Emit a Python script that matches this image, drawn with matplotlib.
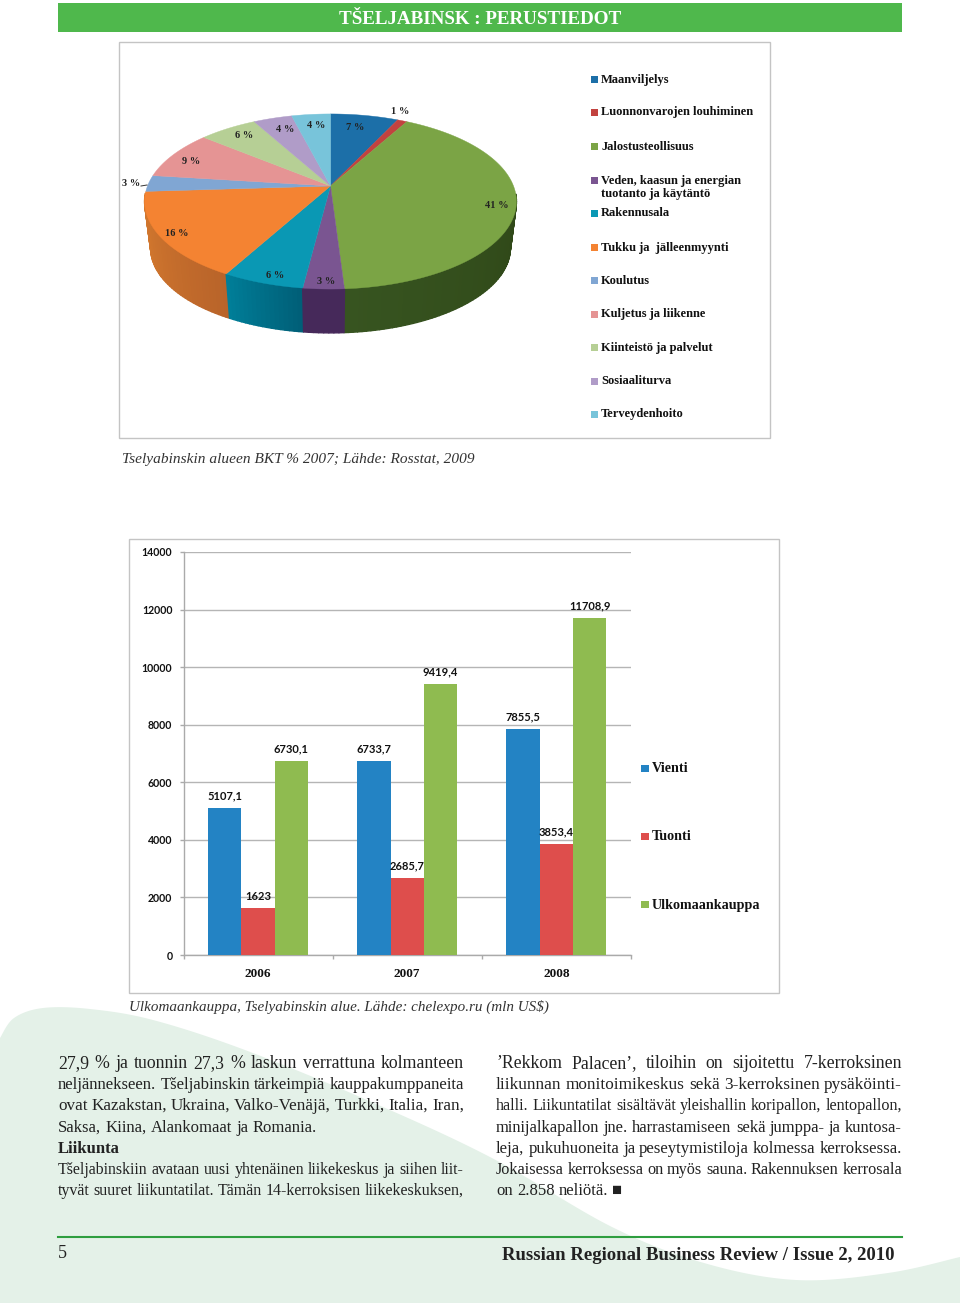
import numpy as np
import matplotlib
matplotlib.use('Agg')
import matplotlib.pyplot as plt
from matplotlib.patches import Polygon, Rectangle

SERIF = 'Liberation Serif'
SANS = 'Lato'

# pie data
pie_values = [7, 1, 41, 3, 6, 16, 3, 9, 6, 4, 4]
pie_names = ['Maanviljelys', 'Luonnonvarojen louhiminen', 'Jalostusteollisuus',
             'Veden, kaasun ja energian\ntuotanto ja käytäntö', 'Rakennusala',
             'Tukku ja  jälleenmyynti', 'Koulutus', 'Kuljetus ja liikenne',
             'Kiinteistö ja palvelut', 'Sosiaaliturva', 'Terveydenhoito']
pie_colors = ['#1c6fa8', '#c2423f', '#7ba445', '#7a5591', '#0a98b4', '#f48332',
              '#80a6d3', '#e59494', '#b6cf95', '#b09cc8', '#78c4da']
side_left = ['#1c6fa8', '#c2423f', '#375420', '#46295a', '#007e98', '#d97d2f',
             '#80a6d3', '#e59494', '#b6cf95', '#b09cc8', '#78c4da']
side_right = ['#1c6fa8', '#c2423f', '#283c10', '#46295a', '#005f78', '#b9642a',
              '#80a6d3', '#e59494', '#b6cf95', '#b09cc8', '#78c4da']
pie_label_xy = [(355, 126), (400, 111), (497, 205), (326, 280), (275, 274), (177, 232),
                (131, 183), (191, 160), (244, 135), (285, 128), (316, 125)]
legend_y = [79, 112, 146, 180, 213, 247, 280, 314, 347, 381, 414]

# bar data
years = ['2006', '2007', '2008']
vienti = [5107.1, 6733.7, 7855.5]
tuonti = [1623, 2685.7, 3853.4]
ulkomaankauppa = [6730.1, 9419.4, 11708.9]
bar_ticks = [0, 2000, 4000, 6000, 8000, 10000, 12000, 14000]
bar_names = ['Vienti', 'Tuonti', 'Ulkomaankauppa']
bar_colors = ['#2383c4', '#de4e4c', '#8fbb50']
bar_legend_y = [768, 836, 904]

# page text
left_lines = ['27,9 % ja tuonnin 27,3 % laskun verrattuna kolmanteen',
              'neljännekseen. Tšeljabinskin tärkeimpiä kauppakumppaneita',
              'ovat Kazakstan, Ukraina, Valko-Venäjä, Turkki, Italia, Iran,',
              'Saksa, Kiina, Alankomaat ja Romania.',
              'Liikunta',
              'Tšeljabinskiin avataan uusi yhtenäinen liikekeskus ja siihen liit-',
              'tyvät suuret liikuntatilat. Tämän 14-kerroksisen liikekeskuksen,']
right_lines = ['’Rekkom Palacen’, tiloihin on sijoitettu 7-kerroksinen',
               'liikunnan monitoimikeskus sekä 3-kerroksinen pysäköinti-',
               'halli. Liikuntatilat sisältävät yleishallin koripallon, lentopallon,',
               'minijalkapallon jne. harrastamiseen sekä jumppa- ja kuntosa-',
               'leja, pukuhuoneita ja peseytymistiloja kolmessa kerroksessa.',
               'Jokaisessa kerroksessa on myös sauna. Rakennuksen kerrosala',
               'on 2.858 neliötä. ■']
left_justified = [True, True, True, False, False, True, True]
right_justified = [True, True, True, True, True, True, False]
line_y = [1063, 1084, 1105, 1127, 1148, 1169, 1190]
blob_x = [0, 14, 43, 90, 153, 245, 367, 490, 612, 704, 796, 888, 960]
blob_y = [1038, 1018, 1008, 1009, 1020, 1050, 1100, 1157, 1227, 1263, 1280, 1273, 1257]

fig = plt.figure(figsize=(9.6, 13.03), dpi=100)
page = fig.add_axes([0, 0, 1, 1])
page.set_xlim(0, 960)
page.set_ylim(1303, 0)
page.axis('off')


def smooth(xs, ys, n=20):
    # catmull-rom through the points, only for the page background shape
    p = np.column_stack([xs, ys]).astype(float)
    p = np.vstack([p[0], p, p[-1]])
    out = []
    for i in range(1, len(p) - 2):
        for t in np.linspace(0, 1, n, endpoint=False):
            out.append(0.5 * (2 * p[i] + (p[i + 1] - p[i - 1]) * t
                              + (2 * p[i - 1] - 5 * p[i] + 4 * p[i + 1] - p[i + 2]) * t ** 2
                              + (3 * p[i] - p[i - 1] - 3 * p[i + 1] + p[i + 2]) * t ** 3))
    out.append(p[-2])
    return out


blob = smooth(blob_x, blob_y) + [(960, 1303), (0, 1303)]
page.add_patch(Polygon(blob, closed=True, fc='#e4f1e8', ec='none', zorder=0))

# title band and chart boxes
page.add_patch(Rectangle((58, 3), 844, 29, fc='#4fb84c', ec='none'))
page.text(480, 20, 'TŠELJABINSK : PERUSTIEDOT', color='white', family=SERIF, weight='bold',
          fontsize=13.7, ha='center', va='center')
page.add_patch(Rectangle((119, 42), 651, 396, fc='white', ec='#c4c4c4', lw=1))
page.add_patch(Rectangle((129, 539), 650, 454, fc='white', ec='#c4c4c4', lw=1))


# pie, a circle seen in perspective
def project(angle, cx, cy, rx, ry, k=0.177):
    u, v = np.sin(angle), -np.cos(angle)
    d = 1 - k * v
    return np.column_stack([cx + rx * u / d, cy + ry * v / d])


top = (330.5, 186, 183, 84.8)
low = (330.5, 233, 177, 82.2)
edges = np.cumsum([0] + pie_values) / sum(pie_values) * 2 * np.pi

quads = []
for i in range(len(pie_values)):
    a = np.linspace(edges[i], edges[i + 1], max(2, pie_values[i] * 3))
    c0 = np.array(matplotlib.colors.to_rgb(side_left[i]))
    c1 = np.array(matplotlib.colors.to_rgb(side_right[i]))
    t_pts = project(a, *top)
    b_pts = project(a, *low)
    for j in range(len(a) - 1):
        f = j / max(1, len(a) - 2)
        col = c1 * (1 - f) + c0 * f
        q = [t_pts[j], t_pts[j + 1], b_pts[j + 1], b_pts[j]]
        # only the front of the rim is seen
        if -np.cos(a[j]) > 0.1 or -np.cos(a[j + 1]) > 0.1:
            quads.append((-np.cos(a[j]), q, col))
quads.sort(key=lambda s: s[0])
for _, q, col in quads:
    page.add_patch(Polygon(q, closed=True, fc=col, ec=col, lw=1.0, joinstyle='round', zorder=2))

for i in range(len(pie_values)):
    a = np.linspace(edges[i], edges[i + 1], max(2, pie_values[i] * 3))
    pts = np.vstack([[top[0], top[1]], project(a, *top)])
    page.add_patch(Polygon(pts, closed=True, fc=pie_colors[i], ec=pie_colors[i], lw=0.3, zorder=3))
    x, y = pie_label_xy[i]
    page.text(x, y + 1, '%d %%' % pie_values[i], family=SERIF, weight='bold', fontsize=7.5,
              color='#222222', ha='center', va='center', zorder=4)
page.plot([141, 147], [186, 185], color='#333333', lw=0.7, zorder=4)

# pie legend
for i in range(len(pie_names)):
    page.add_patch(Rectangle((591, legend_y[i] - 3), 7, 7, fc=pie_colors[i], ec='none'))
    page.text(601, legend_y[i] + 0.5 + (7 if '\n' in pie_names[i] else 0), pie_names[i], family=SERIF,
              weight='bold', fontsize=9, color='#111111', va='center', linespacing=1.05)

# bar chart, in its own axes placed on the page
ax_left, ax_right, ax_top, ax_bottom = 183.5, 631, 552, 955
ax = fig.add_axes([ax_left / 960, 1 - ax_bottom / 1303, (ax_right - ax_left) / 960, (ax_bottom - ax_top) / 1303])
ax.patch.set_alpha(0)
ax.set_xlim(-0.5, 2.5)
ax.set_ylim(0, 14000)
x = np.arange(len(years))
w = 33.3 / 149
for i, (vals, col) in enumerate(zip([vienti, tuonti, ulkomaankauppa], bar_colors)):
    pos = x + (i - 1) * w
    ax.bar(pos, vals, width=w, color=col, zorder=3)
    for px, val in zip(pos, vals):
        txt = ('%.1f' % val).replace('.', ',') if val != int(val) else str(int(val))
        ax.annotate(txt, (px, val), xytext=(0, 8.6), textcoords='offset points', ha='center', va='center',
                    family=SANS, weight='bold', fontsize=8, color='#111111', zorder=4, annotation_clip=False)
ax.set_yticks(bar_ticks)
ax.set_yticklabels([str(t) for t in bar_ticks], family=SANS, weight='bold', fontsize=7.6, color='#111111')
ax.set_xticks([-0.5, 0.5, 1.5, 2.5])
ax.set_xticklabels([])
ax.tick_params(axis='y', length=3, color='#aaaaaa', width=1, pad=5)
ax.tick_params(axis='x', length=3, color='#aaaaaa', width=1)
ax.grid(axis='y', color='#b5b5b5', lw=1, zorder=1)
ax.set_axisbelow(True)
for s in ['top', 'right']:
    ax.spines[s].set_visible(False)
for s in ['left', 'bottom']:
    ax.spines[s].set_color('#aaaaaa')
    ax.spines[s].set_linewidth(1)
for px, yr in zip(x, years):
    ax.annotate(yr, (px, 0), xytext=(0, -13.5), textcoords='offset points', ha='center', va='center',
                family=SERIF, weight='bold', fontsize=9.5, color='#111111', annotation_clip=False)

for i in range(len(bar_names)):
    page.add_patch(Rectangle((641, bar_legend_y[i] - 3.5), 7.5, 7.5, fc=bar_colors[i], ec='none'))
    page.text(652, bar_legend_y[i] + 1, bar_names[i], family=SERIF, weight='bold', fontsize=10.2,
              color='#111111', va='center')

# captions
page.text(122, 460, 'Tselyabinskin alueen BKT % 2007; Lähde: Rosstat, 2009', family=SERIF, style='italic',
          fontsize=11.1, color='#333333', va='center')
page.text(129, 1007, 'Ulkomaankauppa, Tselyabinskin alue. Lähde: chelexpo.ru (mln US$)', family=SERIF,
          style='italic', fontsize=10.9, color='#333333', va='center')

renderer = fig.canvas.get_renderer()


def text_line(s, x0, x1, y, justify, weight='normal', size=12):
    if justify:
        # fit the font to the column so word gaps stay even
        probe = page.text(x0, y, s, family=SERIF, fontsize=size)
        natural = probe.get_window_extent(renderer).width
        probe.remove()
        size = float(np.clip(size * (x1 - x0) / natural, 10.5, 12.8))
    words = s.split(' ')
    items = [page.text(x0, y, wd, family=SERIF, weight=weight, fontsize=size, color='#222222', va='center')
             for wd in words]
    widths = [t.get_window_extent(renderer).width for t in items]
    space = size * 100 / 72 * 0.25
    if justify and len(words) > 1:
        space = (x1 - x0 - sum(widths)) / (len(words) - 1)
    pos = x0
    for t, wid in zip(items, widths):
        t.set_x(pos)
        pos += wid + space


for s, y, j in zip(left_lines, line_y, left_justified):
    text_line(s, 58, 464, y + 1, j, weight='bold' if s == 'Liikunta' else 'normal')
for s, y, j in zip(right_lines, line_y, right_justified):
    text_line(s, 496, 902, y + 1, j)

# footer
page.plot([58, 902], [1237, 1237], color='#2e9e3f', lw=1.5)
page.text(58, 1254, '5', family=SERIF, fontsize=13, color='#222222', va='center')
page.text(894, 1256, 'Russian Regional Business Review / Issue 2, 2010', family=SERIF, weight='bold',
          fontsize=13.5, color='#222222', ha='right', va='center')

fig.savefig('out.png', dpi=100)
